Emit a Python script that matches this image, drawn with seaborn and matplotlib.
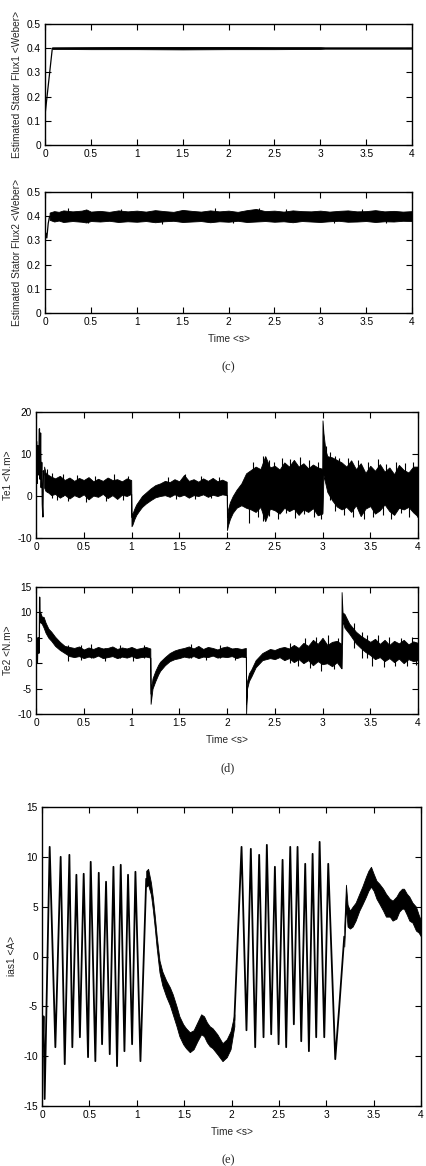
import matplotlib
matplotlib.use("Agg")
import matplotlib.pyplot as plt
import seaborn as sns

# ---- (c) estimated stator flux ----
flux1_t = [0.0, 0.002, 0.08, 4.0]
flux1_v = [0.0, 0.13, 0.40, 0.40]
flux1_band_t = [0.08, 0.5, 1.0, 1.5, 2.0, 2.5, 3.0, 3.05, 3.5, 4.0]
flux1_band_lo = [0.397, 0.396, 0.396, 0.395, 0.396, 0.396, 0.397, 0.398, 0.398, 0.398]
flux1_band_hi = [0.403, 0.404, 0.405, 0.405, 0.405, 0.404, 0.404, 0.403, 0.403, 0.403]

flux2_t = [0.0, 0.002, 0.01, 0.02, 0.035, 0.05]
flux2_v = [0.0, 0.30, 0.33, 0.31, 0.37, 0.40]
flux2_band_t = [0.05, 0.10, 0.15, 0.20, 0.30, 0.40, 0.45, 0.50, 0.60, 0.70,
                0.80, 0.90, 1.00, 1.10, 1.20, 1.30, 1.40, 1.50, 1.60, 1.70,
                1.80, 1.90, 2.00, 2.10, 2.20, 2.30, 2.40, 2.50, 2.60, 2.70,
                2.80, 2.90, 3.00, 3.10, 3.20, 3.30, 3.40, 3.50, 3.60, 3.70,
                3.80, 3.90, 4.00]
flux2_band_lo = [0.385, 0.378, 0.382, 0.376, 0.380, 0.377, 0.374, 0.380, 0.378, 0.381,
                 0.376, 0.379, 0.377, 0.380, 0.375, 0.379, 0.381, 0.376, 0.378, 0.380,
                 0.375, 0.379, 0.377, 0.381, 0.376, 0.378, 0.380, 0.377, 0.379, 0.375,
                 0.380, 0.378, 0.376, 0.379, 0.381, 0.377, 0.378, 0.380, 0.376, 0.379,
                 0.378, 0.381, 0.380]
flux2_band_hi = [0.415, 0.421, 0.418, 0.424, 0.420, 0.423, 0.428, 0.419, 0.422, 0.418,
                 0.424, 0.420, 0.423, 0.419, 0.425, 0.421, 0.418, 0.426, 0.422, 0.419,
                 0.424, 0.420, 0.423, 0.418, 0.425, 0.430, 0.421, 0.423, 0.419, 0.424,
                 0.421, 0.420, 0.423, 0.419, 0.422, 0.424, 0.420, 0.421, 0.425, 0.420,
                 0.422, 0.419, 0.421]
flux2_spk_t = [0.25, 0.47, 0.83, 1.27, 1.85, 2.05, 2.33, 2.63, 3.15, 3.45, 3.72]
flux2_spk_lo = [0.40, 0.370, 0.40, 0.368, 0.40, 0.370, 0.40, 0.40, 0.370, 0.40, 0.370]
flux2_spk_hi = [0.432, 0.40, 0.430, 0.40, 0.432, 0.40, 0.435, 0.430, 0.40, 0.430, 0.40]

# ---- (d) electromagnetic torque ----
te1_init_t = [0.0, 0.006, 0.012, 0.018, 0.024, 0.03, 0.036, 0.042, 0.048, 0.054,
              0.06, 0.066, 0.072, 0.078, 0.085]
te1_init_v = [0.0, 13.0, 3.0, 12.0, 5.0, 10.0, 16.0, 4.0, 15.0, 2.0,
              8.0, -2.0, -5.0, 6.0, 5.0]
te1_t = [0.085, 0.10, 0.13, 0.16, 0.20, 0.25, 0.30, 0.35, 0.40, 0.45,
         0.50, 0.55, 0.60, 0.65, 0.70, 0.75, 0.80, 0.85, 0.90, 0.95,
         0.997, 1.000, 1.010, 1.030, 1.050, 1.080, 1.110, 1.150, 1.200, 1.250,
         1.300, 1.350, 1.400, 1.450, 1.500, 1.550, 1.600, 1.650, 1.700, 1.750,
         1.800, 1.850, 1.900, 1.950, 1.997, 2.000, 2.010, 2.030, 2.060, 2.100,
         2.150, 2.200, 2.250, 2.300, 2.350, 2.400, 2.450, 2.500, 2.550, 2.600,
         2.650, 2.700, 2.750, 2.800, 2.850, 2.900, 2.950, 2.997, 3.000, 3.010,
         3.030, 3.050, 3.100, 3.150, 3.200, 3.250, 3.300, 3.350, 3.400, 3.450,
         3.500, 3.550, 3.600, 3.650, 3.700, 3.750, 3.800, 3.850, 3.900, 3.950,
         4.000]
te1_lo = [2.0, 1.2, 0.8, 0.2, 0.5, -0.4, 0.3, -0.6, 0.2, -0.3,
          0.4, -0.8, 0.1, -0.2, 0.5, -0.5, 0.2, -0.7, 0.3, 0.0,
          0.5, -7.2, -6.8, -5.5, -4.5, -3.5, -2.6, -1.8, -1.0, -0.3,
          0.0, 0.2, -0.2, 0.4, -0.1, 0.3, -0.4, 0.2, 0.0, 0.4,
          -0.2, 0.3, 0.0, 0.4, 0.2, -8.1, -7.0, -5.5, -4.0, -2.8,
          -2.2, -2.8, -3.2, -3.8, -2.6, -6.0, -3.0, -3.4, -4.2, -2.8,
          -3.6, -3.0, -4.5, -3.2, -3.8, -2.9, -4.6, -4.2, -4.0, 5.0,
          3.0, 1.0, -1.0, -2.5, -3.2, -2.6, -3.8, -2.2, -4.8, -3.0,
          -2.4, -4.2, -3.4, -2.0, -3.6, -4.5, -2.8, -3.2, -2.6, -3.9,
          -4.9]
te1_hi = [7.0, 5.5, 5.0, 4.6, 4.2, 4.8, 3.8, 4.4, 3.6, 4.3,
          3.8, 4.5, 3.5, 4.1, 3.6, 4.4, 3.8, 4.0, 3.5, 4.2,
          3.8, -5.0, -4.2, -3.0, -2.0, -1.0, 0.0, 0.8, 1.8, 2.6,
          3.0, 3.6, 3.3, 4.0, 3.5, 5.0, 3.6, 4.0, 3.4, 4.2,
          3.6, 4.3, 3.5, 3.9, 3.4, -4.9, -3.2, -1.5, 0.0, 1.5,
          3.0, 5.4, 6.2, 7.0, 6.4, 9.5, 6.8, 7.2, 6.3, 8.0,
          7.0, 8.6, 7.0, 7.8, 6.6, 7.5, 6.8, 6.5, 18.0, 15.0,
          11.0, 9.5, 9.2, 8.6, 8.0, 7.0, 8.5, 6.4, 7.8, 5.5,
          7.2, 6.0, 7.6, 5.8, 6.8, 5.2, 7.4, 6.2, 5.6, 7.0,
          7.0]
# single noise spikes sticking out of the band
te1_spk_t = [0.12, 0.17, 0.22, 0.28, 0.34, 0.43, 0.52, 0.62, 0.73, 0.82,
             0.91, 0.96, 1.38, 1.47, 1.56, 1.66, 1.73, 1.83, 1.92, 2.23,
             2.27, 2.32, 2.38, 2.44, 2.49, 2.53, 2.58, 2.62, 2.66, 2.71,
             2.76, 2.81, 2.86, 2.91, 2.95, 2.98, 3.04, 3.08, 3.13, 3.17,
             3.22, 3.27, 3.32, 3.37, 3.43, 3.48, 3.53, 3.58, 3.63, 3.67,
             3.72, 3.77, 3.82, 3.86, 3.91, 3.95, 3.99]
te1_spk_lo = [1.0, -0.5, -1.0, 0.0, -1.2, 0.5, -1.4, 1.0, -1.2, 1.0,
              -1.0, 1.0, 1.0, -0.8, 2.0, -0.6, 2.0, -0.5, 2.0, -6.5,
              2.0, -5.0, -6.0, -4.8, 1.0, -5.5, 1.0, -4.0, 1.0, -5.2,
              1.0, -4.4, 1.0, -5.0, 1.0, -5.5, 5.0, -1.0, -3.5, 0.0,
              -4.5, 2.0, -5.0, 1.0, -5.5, 2.0, -5.0, 1.0, -4.5, 2.0,
              -5.5, 1.0, -4.0, 2.0, -5.0, 1.0, -5.0]
te1_spk_hi = [6.5, 5.5, 4.0, 5.2, 3.0, 5.0, 2.0, 4.8, 2.0, 5.2,
              2.0, 4.8, 4.5, 2.0, 5.2, 2.0, 4.8, 2.0, 4.6, 2.0,
              8.0, 1.0, 9.5, 8.5, 8.2, 0.0, 9.0, 0.0, 8.8, 0.0,
              9.2, 0.0, 8.5, 0.0, 8.0, 0.0, 12.0, 10.5, 9.5, 9.0,
              2.0, 9.0, 0.0, 8.5, 0.0, 8.0, 0.0, 8.8, 0.0, 7.5,
              0.0, 8.2, 0.0, 7.8, 0.0, 8.0, 7.0]

te2_init_t = [0.0, 0.015, 0.017, 0.02, 0.025, 0.03, 0.034, 0.038, 0.042, 0.045]
te2_init_v = [0.0, 0.0, 2.0, 5.0, 2.0, 5.0, 2.0, 13.0, 8.0, 10.0]
te2_t = [0.045, 0.06, 0.08, 0.10, 0.13, 0.16, 0.20, 0.25, 0.30, 0.35,
         0.40, 0.45, 0.50, 0.55, 0.60, 0.65, 0.70, 0.75, 0.80, 0.85,
         0.90, 0.95, 1.00, 1.05, 1.10, 1.15, 1.197, 1.200, 1.210, 1.220,
         1.250, 1.280, 1.300, 1.350, 1.400, 1.450, 1.500, 1.550, 1.600, 1.650,
         1.700, 1.750, 1.800, 1.850, 1.900, 1.950, 2.000, 2.050, 2.100, 2.150,
         2.197, 2.200, 2.210, 2.230, 2.255, 2.300, 2.370, 2.450, 2.500, 2.550,
         2.600, 2.650, 2.700, 2.750, 2.800, 2.850, 2.900, 2.950, 3.000, 3.050,
         3.100, 3.150, 3.197, 3.200, 3.210, 3.230, 3.280, 3.350, 3.400, 3.450,
         3.500, 3.550, 3.600, 3.650, 3.700, 3.750, 3.800, 3.850, 3.900, 3.950,
         4.000]
te2_lo = [8.0, 7.8, 7.0, 6.0, 5.0, 4.4, 3.4, 2.6, 2.0, 1.4,
          1.2, 1.4, 1.0, 1.3, 1.1, 1.5, 1.0, 1.2, 1.4, 1.0,
          1.3, 1.1, 1.4, 1.0, 1.2, 1.3, 1.1, -8.0, -6.5, -5.0,
          -3.5, -2.2, -1.5, -0.4, 0.4, 0.8, 1.0, 1.3, 1.1, 1.4,
          1.0, 1.3, 1.2, 1.5, 1.1, 1.3, 1.2, 1.4, 1.0, 1.3,
          1.2, -10.0, -5.0, -3.5, -2.6, -0.8, 0.6, 1.0, 0.8, 1.2,
          0.6, 1.0, 0.2, 0.8, 0.0, 0.6, -0.4, 0.4, -0.2, 0.0,
          -0.6, 0.2, -1.0, -1.0, 8.4, 7.0, 5.8, 3.9, 3.0, 2.2,
          1.6, 0.8, 1.2, 0.4, 1.0, 0.2, 0.9, 0.0, 0.8, 0.4,
          0.6]
te2_hi = [10.0, 9.2, 9.1, 8.0, 6.8, 6.2, 5.2, 4.2, 3.4, 3.2,
          3.0, 3.3, 2.7, 3.1, 2.8, 3.2, 2.9, 3.0, 3.3, 2.8,
          3.1, 2.9, 3.2, 2.8, 3.0, 3.2, 2.9, -6.0, -4.5, -3.0,
          -1.5, -0.3, 0.3, 1.2, 2.0, 2.5, 2.8, 3.0, 3.3, 2.9,
          3.4, 2.8, 3.2, 3.0, 2.7, 3.1, 3.3, 2.9, 3.0, 2.8,
          3.0, -8.0, -3.5, -2.0, -1.2, 0.6, 2.0, 2.8, 2.6, 3.0,
          3.2, 2.9, 3.6, 3.0, 4.0, 3.4, 4.6, 3.8, 5.0, 3.6,
          4.2, 4.4, 3.8, 14.0, 10.0, 9.7, 7.8, 6.2, 5.4, 4.8,
          4.2, 4.8, 3.8, 4.6, 3.6, 4.4, 3.9, 4.6, 3.7, 4.3,
          4.0]
te2_spk_t = [0.33, 0.47, 0.58, 0.72, 0.88, 1.02, 1.13, 1.62, 1.78, 1.93,
             2.08, 2.66, 2.74, 2.82, 2.87, 2.93, 2.98, 3.06, 3.12, 3.16,
             3.33, 3.41, 3.47, 3.52, 3.58, 3.64, 3.70, 3.76, 3.82, 3.88,
             3.94, 3.98]
te2_spk_lo = [0.5, 0.6, 1.0, 0.5, 1.0, 0.5, 1.0, 1.0, 0.6, 1.0,
              0.6, 0.0, -0.5, 1.0, -1.0, 1.0, -1.5, 1.0, -1.2, 1.0,
              3.0, 1.0, 1.0, -0.5, 2.0, -0.8, 2.0, -0.6, 2.0, -0.5,
              2.0, -0.4]
te2_spk_hi = [3.6, 3.5, 3.7, 3.0, 3.6, 3.0, 3.5, 3.7, 3.0, 3.5,
              3.0, 4.0, 3.0, 5.0, 3.0, 5.2, 2.5, 5.6, 2.5, 5.0,
              8.0, 6.2, 5.5, 3.0, 5.5, 2.0, 5.2, 2.0, 5.0, 2.0,
              5.2, 2.0]

# ---- (e) stator current ias1: peaks / troughs of the oscillating parts ----
ias_osc1_t = [0.0, 0.008, 0.016, 0.028, 0.081, 0.141, 0.197, 0.240, 0.289, 0.320,
              0.363, 0.400, 0.440, 0.486, 0.514, 0.563, 0.599, 0.634, 0.676, 0.715,
              0.754, 0.792, 0.831, 0.870, 0.908, 0.951, 0.986, 1.039, 1.10]
ias_osc1_v = [-6.0, -9.0, -6.0, -14.3, 11.0, -9.1, 10.0, -10.8, 10.2, -9.1,
              8.2, -8.1, 8.3, -10.1, 9.5, -10.5, 8.4, -8.8, 7.5, -9.8,
              9.0, -11.0, 9.2, -9.5, 8.2, -8.8, 8.5, -10.5, 7.8]
ias_osc2_t = [2.03, 2.106, 2.158, 2.204, 2.25, 2.292, 2.338, 2.373, 2.419, 2.458,
              2.497, 2.539, 2.577, 2.62, 2.658, 2.697, 2.736, 2.778, 2.817, 2.856,
              2.894, 2.93, 2.979, 3.021, 3.095, 3.137, 3.19]
ias_osc2_v = [-6.4, 11.0, -7.4, 10.8, -9.1, 10.2, -8.1, 11.2, -7.8, 9.0,
              -8.8, 9.7, -9.1, 11.0, -6.8, 11.0, -8.5, 9.3, -9.5, 10.3,
              -8.1, 11.5, -8.1, 9.3, -10.3, -5.1, 2.0]
ias_b1_t = [1.10, 1.12, 1.15, 1.17, 1.19, 1.21, 1.24, 1.27, 1.31, 1.35,
            1.38, 1.42, 1.45, 1.49, 1.52, 1.56, 1.60, 1.64, 1.68, 1.71,
            1.74, 1.77, 1.80, 1.85, 1.905, 1.95, 1.99, 2.03]
ias_b1_lo = [7.0, 7.2, 6.2, 4.7, 2.9, 0.9, -1.6, -2.9, -4.0, -4.9,
             -5.8, -7.0, -8.0, -8.8, -9.2, -9.6, -9.3, -8.5, -7.8, -8.0,
             -8.6, -9.0, -9.2, -9.8, -10.5, -10.1, -9.3, -7.0]
ias_b1_hi = [8.6, 8.8, 7.4, 5.9, 4.1, 2.1, -0.4, -1.5, -2.4, -3.1,
             -3.8, -5.0, -6.0, -6.8, -7.2, -7.6, -7.4, -6.6, -5.8, -6.0,
             -6.6, -7.0, -7.2, -7.8, -8.7, -8.3, -7.5, -5.8]
ias_b2_t = [3.19, 3.208, 3.225, 3.25, 3.278, 3.31, 3.349, 3.38, 3.419, 3.445,
            3.472, 3.50, 3.53, 3.56, 3.60, 3.63, 3.67, 3.70, 3.74, 3.77,
            3.80, 3.82, 3.85, 3.877, 3.91, 3.947, 3.975, 4.0]
ias_b2_lo = [1.0, 5.0, 3.0, 2.8, 3.0, 3.6, 4.6, 5.2, 6.0, 6.6,
             7.0, 6.6, 5.8, 5.3, 4.6, 4.0, 4.0, 3.6, 3.8, 4.5,
             4.8, 4.8, 4.2, 3.6, 3.4, 2.6, 2.4, 2.0]
ias_b2_hi = [3.0, 7.2, 5.2, 4.6, 5.0, 5.4, 6.3, 7.0, 8.0, 8.6,
             9.0, 8.3, 7.6, 7.3, 6.8, 6.3, 5.8, 5.6, 6.0, 6.5,
             6.8, 6.8, 6.3, 6.0, 5.4, 5.0, 4.2, 3.6]

time_ticks = [0, 0.5, 1, 1.5, 2, 2.5, 3, 3.5, 4]
time_ticklabels = ["0", "0.5", "1", "1.5", "2", "2.5", "3", "3.5", "4"]

W, H = 426, 1166


def box(left, top, right, bottom):
    # pixel box -> figure fraction
    return [left / W, 1 - bottom / H, (right - left) / W, (bottom - top) / H]


def style_axes(ax, yticks, yticklabels, ylim, ylabel, ylab_x):
    ax.set_xlim(0, 4)
    ax.set_ylim(*ylim)
    ax.set_xticks(time_ticks)
    ax.set_xticklabels(time_ticklabels)
    ax.set_yticks(yticks)
    ax.set_yticklabels(yticklabels)
    ax.tick_params(direction="in", top=True, right=True, length=4, width=0.8,
                   labelsize=7.3, pad=3, colors="black")
    for s in ax.spines.values():
        s.set_linewidth(1.0)
        s.set_color("black")
        s.set_visible(True)
    ax.set_ylabel(ylabel, fontsize=7.3)
    ax.yaxis.set_label_coords(ylab_x, 0.5)
    ax.set_xlabel("")
    ax.grid(False)


def line(ax, t, v, lw=0.9):
    sns.lineplot(x=t, y=v, ax=ax, color="black", linewidth=lw,
                 estimator=None, sort=False)


def band(ax, t, lo, hi):
    ax.fill_between(t, lo, hi, color="black", linewidth=0.6, edgecolor="black")


def spikes(ax, t, lo, hi):
    ax.vlines(t, lo, hi, color="black", linewidth=0.8)


sns.set_theme(style="ticks")
plt.rcParams["font.family"] = ["Liberation Sans", "DejaVu Sans"]

fig = plt.figure(figsize=(W / 100, H / 100), dpi=100)

# (c) top
ax1 = fig.add_axes(box(45, 24, 412, 145))
line(ax1, flux1_t, flux1_v)
band(ax1, flux1_band_t, flux1_band_lo, flux1_band_hi)
style_axes(ax1, [0, 0.1, 0.2, 0.3, 0.4, 0.5], ["0", "0.1", "0.2", "0.3", "0.4", "0.5"],
           (0, 0.5), "Estimated Stator Flux1 <Weber>", -0.063)

ax2 = fig.add_axes(box(45, 192, 412, 313))
line(ax2, flux2_t, flux2_v)
band(ax2, flux2_band_t, flux2_band_lo, flux2_band_hi)
spikes(ax2, flux2_spk_t, flux2_spk_lo, flux2_spk_hi)
style_axes(ax2, [0, 0.1, 0.2, 0.3, 0.4, 0.5], ["0", "0.1", "0.2", "0.3", "0.4", "0.5"],
           (0, 0.5), "Estimated Stator Flux2 <Weber>", -0.063)
ax2.set_xlabel("Time <s>", fontsize=7.3)
ax2.xaxis.set_label_coords(0.5, -0.17)

# (d) torques
ax3 = fig.add_axes(box(36, 412, 418, 538))
line(ax3, te1_init_t, te1_init_v)
band(ax3, te1_t, te1_lo, te1_hi)
spikes(ax3, te1_spk_t, te1_spk_lo, te1_spk_hi)
style_axes(ax3, [-10, 0, 10, 20], ["-10", "0", "10", "20"], (-10, 20), "Te1 <N.m>", -0.06)

ax4 = fig.add_axes(box(36, 587, 418, 714))
line(ax4, te2_init_t, te2_init_v)
band(ax4, te2_t, te2_lo, te2_hi)
spikes(ax4, te2_spk_t, te2_spk_lo, te2_spk_hi)
style_axes(ax4, [-10, -5, 0, 5, 10, 15], ["-10", "-5", "0", "5", "10", "15"],
           (-10, 15), "Te2 <N.m>", -0.06)
ax4.set_xlabel("Time <s>", fontsize=7.3)
ax4.xaxis.set_label_coords(0.5, -0.165)

# (e) current
ax5 = fig.add_axes(box(42, 807, 421, 1106))
line(ax5, ias_osc1_t, ias_osc1_v, lw=1.3)
line(ax5, ias_osc2_t, ias_osc2_v, lw=1.3)
band(ax5, ias_b1_t, ias_b1_lo, ias_b1_hi)
band(ax5, ias_b2_t, ias_b2_lo, ias_b2_hi)
style_axes(ax5, [-15, -10, -5, 0, 5, 10, 15], ["-15", "-10", "-5", "0", "5", "10", "15"],
           (-15, 15), "ias1 <A>", -0.066)
ax5.set_xlabel("Time <s>", fontsize=7.3)
ax5.xaxis.set_label_coords(0.5, -0.07)

for label, ypix in [("(c)", 367), ("(d)", 768), ("(e)", 1160)]:
    fig.text(228 / W, 1 - ypix / H, label, ha="center", va="center",
             fontsize=9, family=["Liberation Serif", "DejaVu Serif"])

fig.savefig("out.png", dpi=100, facecolor="white")
